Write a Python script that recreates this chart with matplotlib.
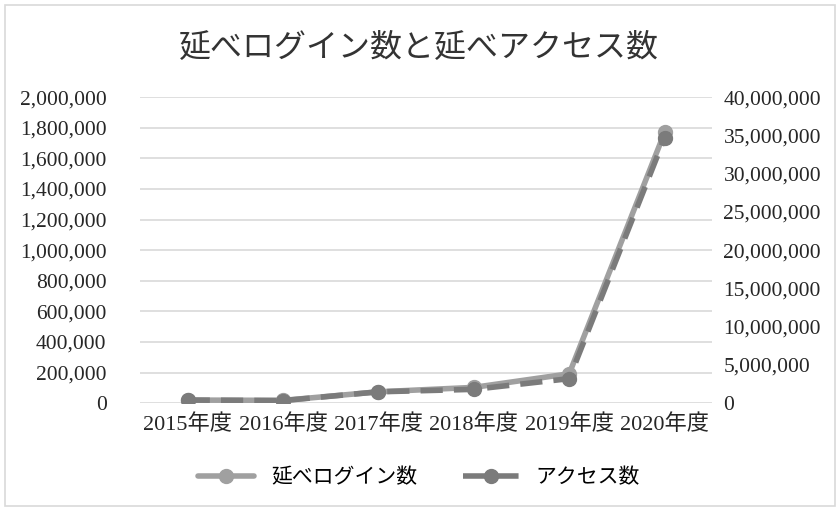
import matplotlib
matplotlib.use("Agg")
import matplotlib.pyplot as plt
from matplotlib.ticker import FuncFormatter, MultipleLocator
from matplotlib.patches import Rectangle

categories = ["2015年度", "2016年度", "2017年度", "2018年度", "2019年度", "2020年度"]
login_counts = [20000, 18000, 74000, 103000, 192000, 1770000]
access_counts = [400000, 330000, 1480000, 1800000, 3200000, 34700000]
login_label = "延べログイン数"
access_label = "アクセス数"
title = "延べログイン数と延べアクセス数"

FAM = ["Liberation Serif", "Noto Sans CJK JP"]
plt.rcParams["font.family"] = FAM

fig = plt.figure(figsize=(8.38, 5.09), dpi=100)
fig.patches.append(Rectangle((0.006, 0.006), 0.99, 0.985, transform=fig.transFigure,
                             fill=False, edgecolor="#d9d9d9", linewidth=1.2))
ax = fig.add_axes([0.167, 0.208, 0.683, 0.601])
ax2 = ax.twinx()

x = list(range(len(categories)))
l1, = ax.plot(x, login_counts, color="#a0a0a0", lw=4, marker="o", ms=10,
              solid_capstyle="round", label=login_label, zorder=3)
l2, = ax2.plot(x, access_counts, color="#7b7b7b", lw=4, ls=(0, (4, 2)), marker="o", ms=10,
               label=access_label, zorder=4)

ax.set_ylim(0, 2000000)
ax2.set_ylim(0, 40000000)
ax.set_xlim(-0.5, len(categories) - 0.5)
ax.yaxis.set_major_locator(MultipleLocator(200000))
ax2.yaxis.set_major_locator(MultipleLocator(5000000))
fmt = FuncFormatter(lambda v, p: f"{int(v):,}")
ax.yaxis.set_major_formatter(fmt)
ax2.yaxis.set_major_formatter(fmt)
ax.set_xticks(x)
ax.set_xticklabels(categories)
ax.grid(axis="y", color="#d9d9d9", lw=1.2)
ax.set_axisbelow(True)
for a in (ax, ax2):
    for s in a.spines.values():
        s.set_visible(False)
    a.tick_params(length=0, labelsize=15.5, colors="#262626")
ax.tick_params(axis="y", pad=24)
ax2.tick_params(axis="y", pad=8)
ax.tick_params(axis="x", pad=8)
for lab in ax.get_xticklabels():
    lab.set_fontsize(16)

fig.text(0.5, 0.905, title, ha="center", va="center", color="#333333",
         family=["Noto Sans CJK JP"], fontsize=23)
fig.legend(handles=[l1, l2], loc="center", bbox_to_anchor=(0.5, 0.062), ncol=2,
           frameon=False, handlelength=2.7, columnspacing=2.2,
           prop={"family": ["Noto Sans CJK JP"], "size": 15})
fig.savefig("out.png", dpi=100)
